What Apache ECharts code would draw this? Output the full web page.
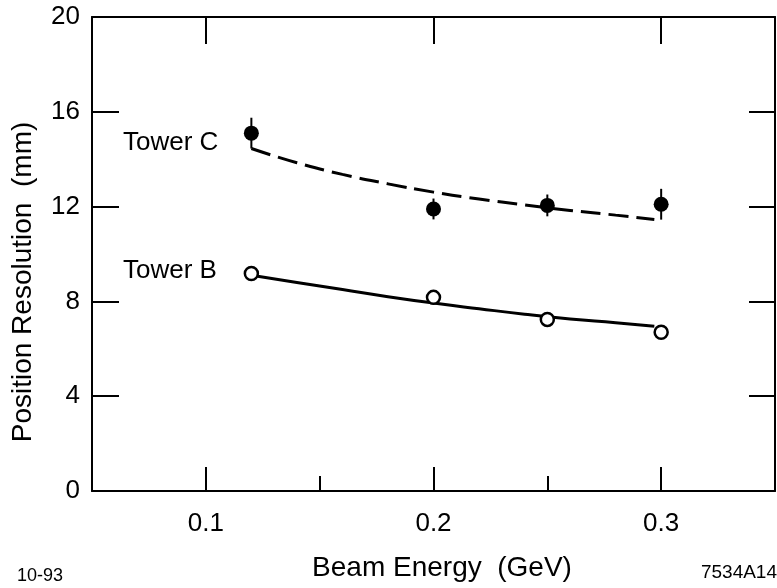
<!DOCTYPE html>
<html>
<head>
<meta charset="utf-8">
<script src="https://cdn.jsdelivr.net/npm/echarts@6/dist/echarts.min.js"></script>
<style>
  html, body { margin: 0; padding: 0; background: #fff; }
  #chart { width: 777px; height: 588px; }
</style>
</head>
<body>
<div id="chart"></div>
<script>
// Measured points (beam energy in GeV, resolution in mm)
const energy = [0.12, 0.2, 0.25, 0.3];
const towerC = [15.1, 11.9, 12.05, 12.1];
const towerCErr = [0.65, 0.44, 0.46, 0.65];
const towerB = [9.18, 8.17, 7.24, 6.7];

// Fitted curves
const fitEnergy = [0.12, 0.14, 0.16, 0.18, 0.2, 0.22, 0.24, 0.26, 0.28, 0.297];
const fitC = [14.45, 13.85, 13.36, 12.96, 12.61, 12.32, 12.07, 11.84, 11.64, 11.46];
const fitB = [9.1, 8.8, 8.5, 8.2, 7.93, 7.69, 7.46, 7.26, 7.1, 6.95];

// Axis ticks
const xMajorTicks = [0.1, 0.2, 0.3];
const xMinorTicks = [0.15, 0.25];
const yTicks = [0, 4, 8, 12, 16, 20];

const FONT = '"Liberation Sans", Arial, Helvetica, sans-serif';
const INK = '#000';

const chart = echarts.init(document.getElementById('chart'), null, { renderer: 'canvas' });

const xRange = { min: 0.05, max: 0.35, interval: 0.05 };
const yRange = { min: yTicks[0], max: yTicks[yTicks.length - 1], interval: yTicks[1] - yTicks[0] };

const baseX = Object.assign({
  type: 'value',
  splitLine: { show: false },
  axisLine: { show: true, onZero: false, lineStyle: { color: INK, width: 2 } }
}, xRange);

const baseY = Object.assign({
  type: 'value',
  splitLine: { show: false },
  axisLine: { show: true, onZero: false, lineStyle: { color: INK, width: 2 } }
}, yRange);

chart.setOption({
  animation: false,
  backgroundColor: '#fff',
  grid: { left: 92, right: 2, top: 17, bottom: 97, containLabel: false, outerBoundsMode: 'none' },
  xAxis: [
    Object.assign({}, baseX, {
      position: 'bottom',
      axisTick: { show: true, inside: true, length: 15, customValues: xMinorTicks, lineStyle: { color: INK, width: 2 } },
      axisLabel: {
        show: true, customValues: xMajorTicks, margin: 20,
        color: INK, fontFamily: FONT, fontSize: 26,
        formatter: v => v.toFixed(1)
      }
    }),
    Object.assign({}, baseX, {
      position: 'bottom',
      axisLine: { show: false },
      axisTick: { show: true, inside: true, length: 24, customValues: xMajorTicks, lineStyle: { color: INK, width: 2 } },
      axisLabel: { show: false }
    }),
    Object.assign({}, baseX, {
      position: 'top',
      axisTick: { show: true, inside: true, length: 27, customValues: xMajorTicks, lineStyle: { color: INK, width: 2 } },
      axisLabel: { show: false }
    })
  ],
  yAxis: [
    Object.assign({}, baseY, {
      position: 'left',
      axisTick: { show: true, inside: true, length: 27, lineStyle: { color: INK, width: 2 } },
      axisLabel: { show: true, margin: 12, color: INK, fontFamily: FONT, fontSize: 26 }
    }),
    Object.assign({}, baseY, {
      position: 'right',
      axisTick: { show: true, inside: true, length: 26, lineStyle: { color: INK, width: 2 } },
      axisLabel: { show: false }
    })
  ],
  series: [
    {
      name: 'Tower C fit',
      type: 'line',
      smooth: true,
      symbol: 'none',
      data: fitEnergy.map((e, i) => [e, fitC[i]]),
      lineStyle: { color: INK, width: 3, type: [20, 8] },
      z: 2
    },
    {
      name: 'Tower B fit',
      type: 'line',
      smooth: true,
      symbol: 'none',
      data: fitEnergy.map((e, i) => [e, fitB[i]]),
      lineStyle: { color: INK, width: 3 },
      z: 2
    },
    {
      name: 'Tower C error',
      type: 'custom',
      encode: { x: 0, y: [1, 2] },
      data: energy.map((e, i) => [e, towerC[i] - towerCErr[i], towerC[i] + towerCErr[i]]),
      renderItem: (params, api) => {
        const lo = api.coord([api.value(0), api.value(1)]);
        const hi = api.coord([api.value(0), api.value(2)]);
        return {
          type: 'line',
          shape: { x1: lo[0], y1: lo[1], x2: hi[0], y2: hi[1] },
          style: { stroke: INK, lineWidth: 2 }
        };
      },
      z: 3
    },
    {
      name: 'Tower C',
      type: 'scatter',
      symbol: 'circle',
      symbolSize: 15,
      data: energy.map((e, i) => [e, towerC[i]]),
      itemStyle: { color: INK, opacity: 1 },
      z: 4
    },
    {
      name: 'Tower B',
      type: 'scatter',
      symbol: 'circle',
      symbolSize: 13,
      data: energy.map((e, i) => [e, towerB[i]]),
      itemStyle: { color: '#fff', borderColor: INK, borderWidth: 2.5, opacity: 1 },
      z: 4
    }
  ],
  graphic: [
    {
      type: 'text', x: 23, y: 282, rotation: Math.PI / 2,
      style: { text: 'Position Resolution  (mm)', font: '28px ' + FONT, fill: INK, align: 'center', verticalAlign: 'middle' }
    },
    {
      type: 'text', x: 442, y: 568,
      style: { text: 'Beam Energy  (GeV)', font: '28px ' + FONT, fill: INK, align: 'center', verticalAlign: 'middle' }
    },
    {
      type: 'text', x: 123, y: 143,
      style: { text: 'Tower C', font: '26px ' + FONT, fill: INK, align: 'left', verticalAlign: 'middle' }
    },
    {
      type: 'text', x: 123, y: 271,
      style: { text: 'Tower B', font: '26px ' + FONT, fill: INK, align: 'left', verticalAlign: 'middle' }
    },
    {
      type: 'text', x: 17, y: 576,
      style: { text: '10-93', font: '18px ' + FONT, fill: INK, align: 'left', verticalAlign: 'middle' }
    },
    {
      type: 'text', x: 777, y: 573,
      style: { text: '7534A14', font: '19px ' + FONT, fill: INK, align: 'right', verticalAlign: 'middle' }
    }
  ]
});
</script>
</body>
</html>
